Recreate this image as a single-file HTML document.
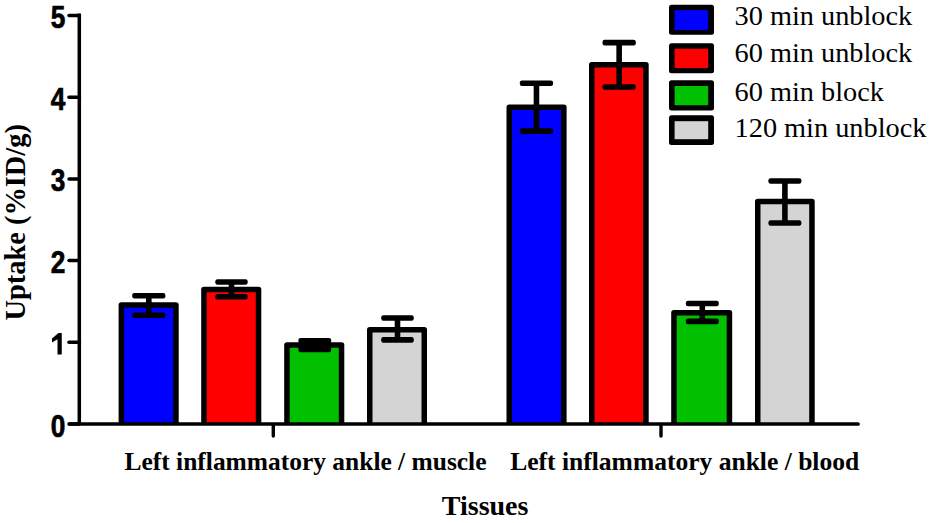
<!DOCTYPE html>
<html><head><meta charset="utf-8"><style>
html,body{margin:0;padding:0;background:#fff;}
svg{display:block;}
.yl{font-family:"Liberation Sans",sans-serif;font-weight:bold;font-size:32px;fill:#000;stroke:#000;stroke-width:0.7px;}
.lg{font-family:"Liberation Serif",serif;font-size:28.3px;fill:#000;}
.xl{font-family:"Liberation Serif",serif;font-weight:bold;font-size:26px;fill:#000;}
.tt{font-family:"Liberation Serif",serif;font-weight:bold;font-size:28px;fill:#000;}
</style></head><body>
<svg width="931" height="523" viewBox="0 0 931 523">
<rect width="931" height="523" fill="#fff"/>
<rect x="121.35" y="305.05" width="54.60" height="118.95" fill="#0000FF"/>
<path d="M121.35,424.0 V305.05 H175.95 V424.0" fill="none" stroke="#000" stroke-width="5.5" stroke-linejoin="round"/>
<rect x="203.95" y="289.50" width="54.60" height="134.50" fill="#FF0000"/>
<path d="M203.95,424.0 V289.50 H258.55 V424.0" fill="none" stroke="#000" stroke-width="5.5" stroke-linejoin="round"/>
<rect x="286.95" y="344.95" width="54.60" height="79.05" fill="#00C000"/>
<path d="M286.95,424.0 V344.95 H341.55 V424.0" fill="none" stroke="#000" stroke-width="5.5" stroke-linejoin="round"/>
<rect x="369.75" y="329.65" width="54.50" height="94.35" fill="#D4D4D4"/>
<path d="M369.75,424.0 V329.65 H424.25 V424.0" fill="none" stroke="#000" stroke-width="5.5" stroke-linejoin="round"/>
<rect x="509.25" y="107.15" width="54.60" height="316.85" fill="#0000FF"/>
<path d="M509.25,424.0 V107.15 H563.85 V424.0" fill="none" stroke="#000" stroke-width="5.5" stroke-linejoin="round"/>
<rect x="591.75" y="64.85" width="54.20" height="359.15" fill="#FF0000"/>
<path d="M591.75,424.0 V64.85 H645.95 V424.0" fill="none" stroke="#000" stroke-width="5.5" stroke-linejoin="round"/>
<rect x="673.95" y="312.65" width="55.50" height="111.35" fill="#00C000"/>
<path d="M673.95,424.0 V312.65 H729.45 V424.0" fill="none" stroke="#000" stroke-width="5.5" stroke-linejoin="round"/>
<rect x="757.75" y="201.55" width="54.20" height="222.45" fill="#D4D4D4"/>
<path d="M757.75,424.0 V201.55 H811.95 V424.0" fill="none" stroke="#000" stroke-width="5.5" stroke-linejoin="round"/>
<line x1="148.80" y1="295.70" x2="148.80" y2="315.25" stroke="#000" stroke-width="5.6"/>
<rect x="132.20" y="292.90" width="33.20" height="5.6" rx="2.2" fill="#000"/>
<rect x="132.20" y="312.45" width="33.20" height="5.6" rx="2.2" fill="#000"/>
<line x1="231.50" y1="282.00" x2="231.50" y2="296.80" stroke="#000" stroke-width="5.6"/>
<rect x="215.30" y="279.20" width="32.40" height="5.6" rx="2.2" fill="#000"/>
<rect x="215.30" y="294.00" width="32.40" height="5.6" rx="2.2" fill="#000"/>
<line x1="314.80" y1="340.70" x2="314.80" y2="349.50" stroke="#000" stroke-width="5.6"/>
<rect x="298.40" y="337.90" width="32.80" height="5.6" rx="2.2" fill="#000"/>
<rect x="298.40" y="346.70" width="32.80" height="5.6" rx="2.2" fill="#000"/>
<line x1="397.50" y1="318.00" x2="397.50" y2="339.90" stroke="#000" stroke-width="5.6"/>
<rect x="381.20" y="315.20" width="32.60" height="5.6" rx="2.2" fill="#000"/>
<rect x="381.20" y="337.10" width="32.60" height="5.6" rx="2.2" fill="#000"/>
<line x1="536.45" y1="83.25" x2="536.45" y2="131.10" stroke="#000" stroke-width="5.6"/>
<rect x="519.80" y="80.45" width="33.30" height="5.6" rx="2.2" fill="#000"/>
<rect x="519.80" y="128.30" width="33.30" height="5.6" rx="2.2" fill="#000"/>
<line x1="619.15" y1="42.60" x2="619.15" y2="87.00" stroke="#000" stroke-width="5.6"/>
<rect x="602.50" y="39.80" width="33.30" height="5.6" rx="2.2" fill="#000"/>
<rect x="602.50" y="84.20" width="33.30" height="5.6" rx="2.2" fill="#000"/>
<line x1="702.30" y1="303.50" x2="702.30" y2="321.35" stroke="#000" stroke-width="5.6"/>
<rect x="685.80" y="300.70" width="33.00" height="5.6" rx="2.2" fill="#000"/>
<rect x="685.80" y="318.55" width="33.00" height="5.6" rx="2.2" fill="#000"/>
<line x1="784.90" y1="180.95" x2="784.90" y2="223.00" stroke="#000" stroke-width="5.6"/>
<rect x="768.40" y="178.15" width="33.00" height="5.6" rx="2.2" fill="#000"/>
<rect x="768.40" y="220.20" width="33.00" height="5.6" rx="2.2" fill="#000"/>
<line x1="79.3" y1="13.6" x2="79.3" y2="425" stroke="#000" stroke-width="3.5"/>
<line x1="69.6" y1="424" x2="858" y2="424" stroke="#000" stroke-width="3.7" stroke-linecap="round"/>
<line x1="69" y1="424.10" x2="79.3" y2="424.10" stroke="#000" stroke-width="3.5" stroke-linecap="round"/>
<line x1="69" y1="342.36" x2="79.3" y2="342.36" stroke="#000" stroke-width="3.5" stroke-linecap="round"/>
<line x1="69" y1="260.62" x2="79.3" y2="260.62" stroke="#000" stroke-width="3.5" stroke-linecap="round"/>
<line x1="69" y1="178.88" x2="79.3" y2="178.88" stroke="#000" stroke-width="3.5" stroke-linecap="round"/>
<line x1="69" y1="97.14" x2="79.3" y2="97.14" stroke="#000" stroke-width="3.5" stroke-linecap="round"/>
<line x1="69" y1="15.40" x2="79.3" y2="15.40" stroke="#000" stroke-width="3.5" stroke-linecap="round"/>
<line x1="273.3" y1="425.6" x2="273.3" y2="436" stroke="#000" stroke-width="3.4" stroke-linecap="round"/>
<line x1="661.0" y1="425.6" x2="661.0" y2="436" stroke="#000" stroke-width="3.4" stroke-linecap="round"/>
<text transform="translate(65.3,436.50) scale(0.82,1)" text-anchor="end" class="yl">0</text>
<text transform="translate(65.3,273.02) scale(0.82,1)" text-anchor="end" class="yl">2</text>
<text transform="translate(65.3,191.28) scale(0.82,1)" text-anchor="end" class="yl">3</text>
<text transform="translate(65.3,109.54) scale(0.82,1)" text-anchor="end" class="yl">4</text>
<text transform="translate(65.3,27.80) scale(0.82,1)" text-anchor="end" class="yl">5</text>
<path d="M61.75,332.9 L58.5,332.9 L52,338.6 L52,342.6 L57.5,339.3 L57.5,354.6 L61.75,354.6 Z" fill="#000"/>
<rect x="669" y="4.7" width="45" height="30.10" rx="2.5" fill="#000"/>
<rect x="674.6" y="10.1" width="33.6" height="20.00" fill="#0000FF"/>
<text x="734.6" y="25.40" class="lg">30 min unblock</text>
<rect x="669" y="43.2" width="45" height="30.00" rx="2.5" fill="#000"/>
<rect x="674.6" y="48.7" width="33.6" height="19.40" fill="#FF0000"/>
<text x="734.6" y="61.80" class="lg">60 min unblock</text>
<rect x="669" y="80.3" width="45" height="30.10" rx="2.5" fill="#000"/>
<rect x="674.6" y="86.0" width="33.6" height="19.20" fill="#00C000"/>
<text x="734.6" y="100.50" class="lg">60 min block</text>
<rect x="669" y="115.3" width="45" height="29.70" rx="2.5" fill="#000"/>
<rect x="674.6" y="121.2" width="33.6" height="18.00" fill="#D4D4D4"/>
<text x="734.6" y="137.00" class="lg">120 min unblock</text>
<text x="124.5" y="470.4" class="xl" textLength="362" lengthAdjust="spacingAndGlyphs">Left inflammatory ankle / muscle</text>
<text x="510.2" y="470.4" class="xl" textLength="349" lengthAdjust="spacingAndGlyphs">Left inflammatory ankle / blood</text>
<text x="441.8" y="514.9" class="tt">Tissues</text>
<text transform="translate(25.3,320.5) rotate(-90)" class="tt" style="font-size:28.4px">Uptake (%ID/g)</text>
</svg>
</body></html>
